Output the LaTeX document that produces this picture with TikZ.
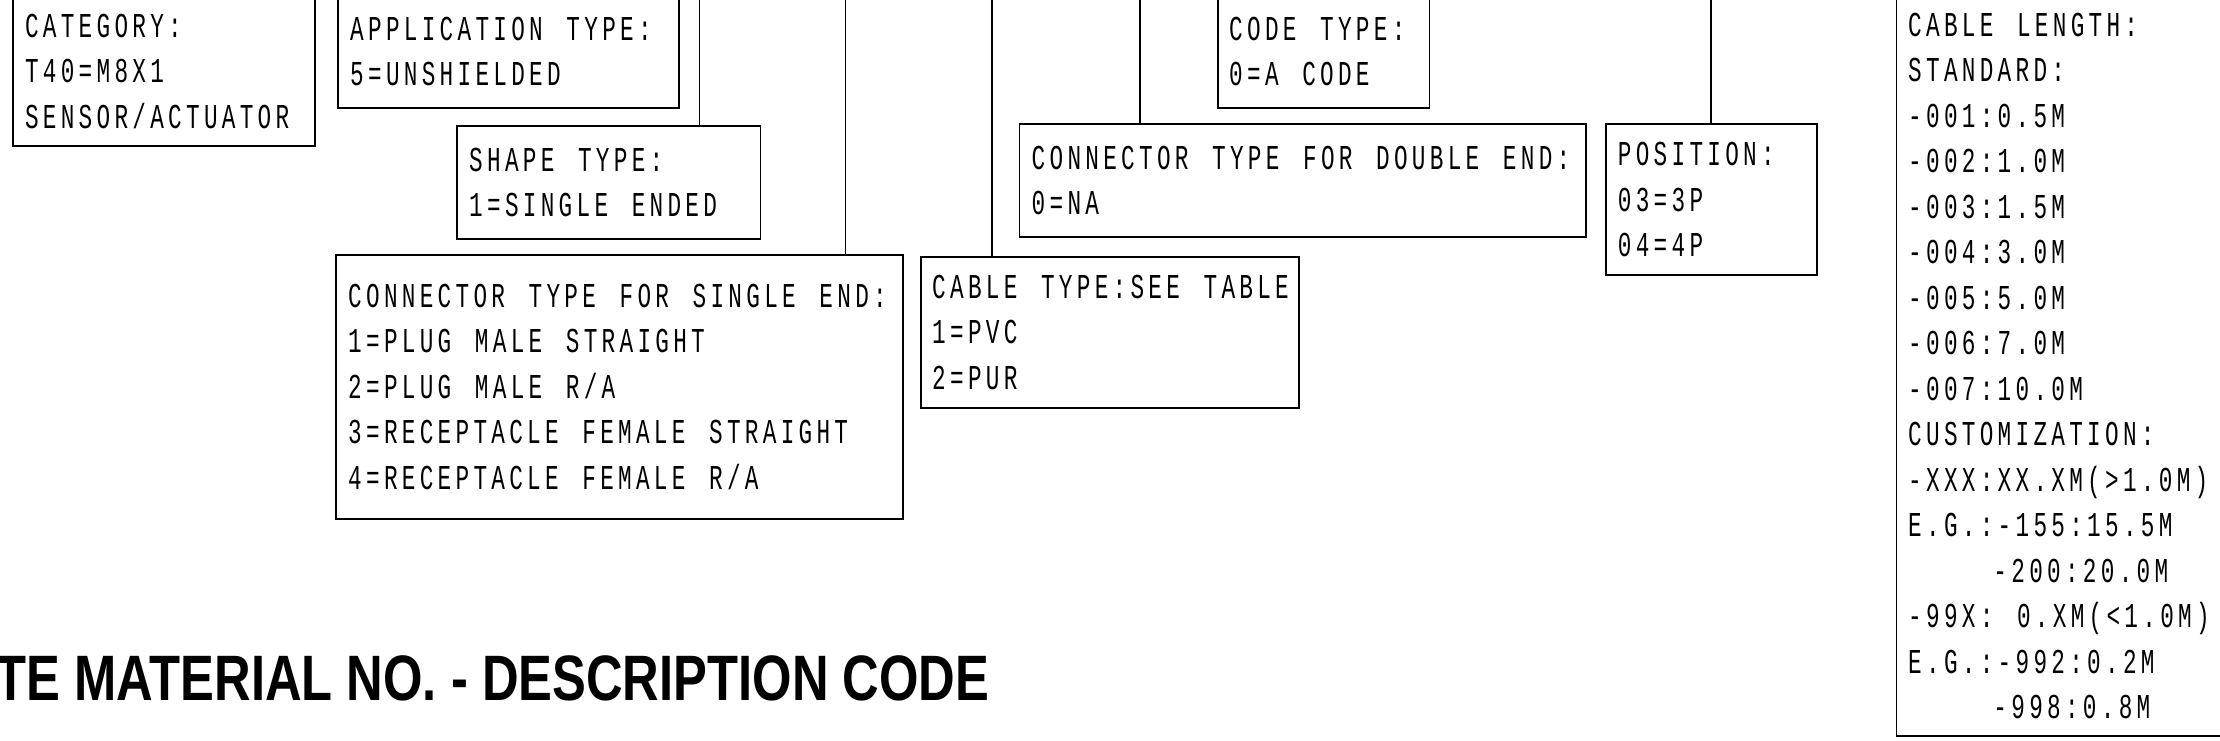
\documentclass[tikz,border=0pt]{standalone}
\usepackage{fontspec}
\usepackage{tikz}
\usetikzlibrary{positioning}
\newfontfamily\cadfont[FakeStretch=0.65,LetterSpace=12.3,WordSpace={1.32,0,0}]{Liberation Mono}
\newfontfamily\titlefont[FakeStretch=0.79]{Liberation Sans}

\tikzset{
  codebox/.style={draw, line width=1.8pt, inner sep=0pt, anchor=north west},
  codetext/.style={anchor=west, align=left, inner sep=0pt,
    font=\cadfont\fontsize{34.9}{45.5}\selectfont},
  lead/.style={line width=1.8pt},
  title/.style={inner sep=0pt, font=\titlefont\bfseries\fontsize{64.2}{70}\selectfont}
}

\begin{document}
\begin{tikzpicture}[x=1pt,y=-1pt]
	\useasboundingbox (0,0) rectangle (2220,740);
	\clip (0,0) rectangle (2220,740);
	% boxes
	\node[codebox, minimum width=302.2, minimum height=150.3] (cat) at (11.8,-5) {};
	\node[codebox, minimum width=340.7, minimum height=112.4] (app) at (337,-5.7) {};
	\node[codebox, minimum width=303.6, minimum height=113] (shape) at (456,125) {};
	\node[codebox, minimum width=567, minimum height=264] (single) at (335,253.7) {};
	\node[codebox, minimum width=378, minimum height=150.7] (cable) at (920,256) {};
	\node[codebox, minimum width=211.6, minimum height=113] (code) at (1217,-5.7) {};
	\node[codebox, minimum width=566.5, minimum height=113.3] (double) at (1018.5,123) {};
	\node[codebox, minimum width=211.3, minimum height=150.7] (pos) at (1604.7,123.3) {};
	\node[codebox, minimum width=340, minimum height=740] (len) at (1895.5,-5) {};
	% texts
	\node[codetext] (catText) at ([xshift=13pt]cat.west) {CATEGORY:\\T40=M8X1\\SENSOR/ACTUATOR};
	\node[codetext] (appText) at ([xshift=13pt]app.west) {APPLICATION TYPE:\\5=UNSHIELDED};
	\node[codetext] (shapeText) at ([xshift=13pt]shape.west) {SHAPE TYPE:\\1=SINGLE ENDED};
	\node[codetext] (singleText) at ([xshift=13pt]single.west) {CONNECTOR TYPE FOR SINGLE END:\\1=PLUG MALE STRAIGHT\\2=PLUG MALE R/A\\3=RECEPTACLE FEMALE STRAIGHT\\4=RECEPTACLE FEMALE R/A};
	\node[codetext] (cableText) at ([xshift=12pt]cable.west) {CABLE TYPE:SEE TABLE\\1=PVC\\2=PUR};
	\node[codetext] (codeText) at ([xshift=12pt]code.west) {CODE TYPE:\\0=A CODE};
	\node[codetext] (doubleText) at ([xshift=13pt]double.west) {CONNECTOR TYPE FOR DOUBLE END:\\0=NA};
	\node[codetext] (posText) at ([xshift=13pt]pos.west) {POSITION:\\03=3P\\04=4P};
	\node[codetext] (lenText) at ([xshift=12.5pt]len.west) {CABLE LENGTH:\\STANDARD:\\-001:0.5M\\-002:1.0M\\-003:1.5M\\-004:3.0M\\-005:5.0M\\-006:7.0M\\-007:10.0M\\CUSTOMIZATION:\\-XXX:XX.XM(>1.0M)\\E.G.:-155:15.5M\\\phantom{E.G.:}-200:20.0M\\-99X: 0.XM(<1.0M)\\E.G.:-992:0.2M\\\phantom{E.G.:}-998:0.8M};
	% leads from the code above
	\coordinate (shapeLead) at (699.4,-5);
	\coordinate (singleLead) at (845.5,-5);
	\coordinate (cableLead) at (991.8,-5);
	\coordinate (doubleLead) at (1139.7,-5);
	\coordinate (posLead) at (1711.3,-5);
	\draw[lead] (shapeLead) -- (shapeLead |- shape.north);
	\draw[lead] (singleLead) -- (singleLead |- single.north);
	\draw[lead] (cableLead) -- (cableLead |- cable.north);
	\draw[lead] (doubleLead) -- (doubleLead |- double.north);
	\draw[lead] (posLead) -- (posLead |- pos.north);
	% title
	\node[title, anchor=base east] (title) at (989.5,700) {TE MATERIAL NO. - DESCRIPTION CODE};
\end{tikzpicture}
\end{document}
